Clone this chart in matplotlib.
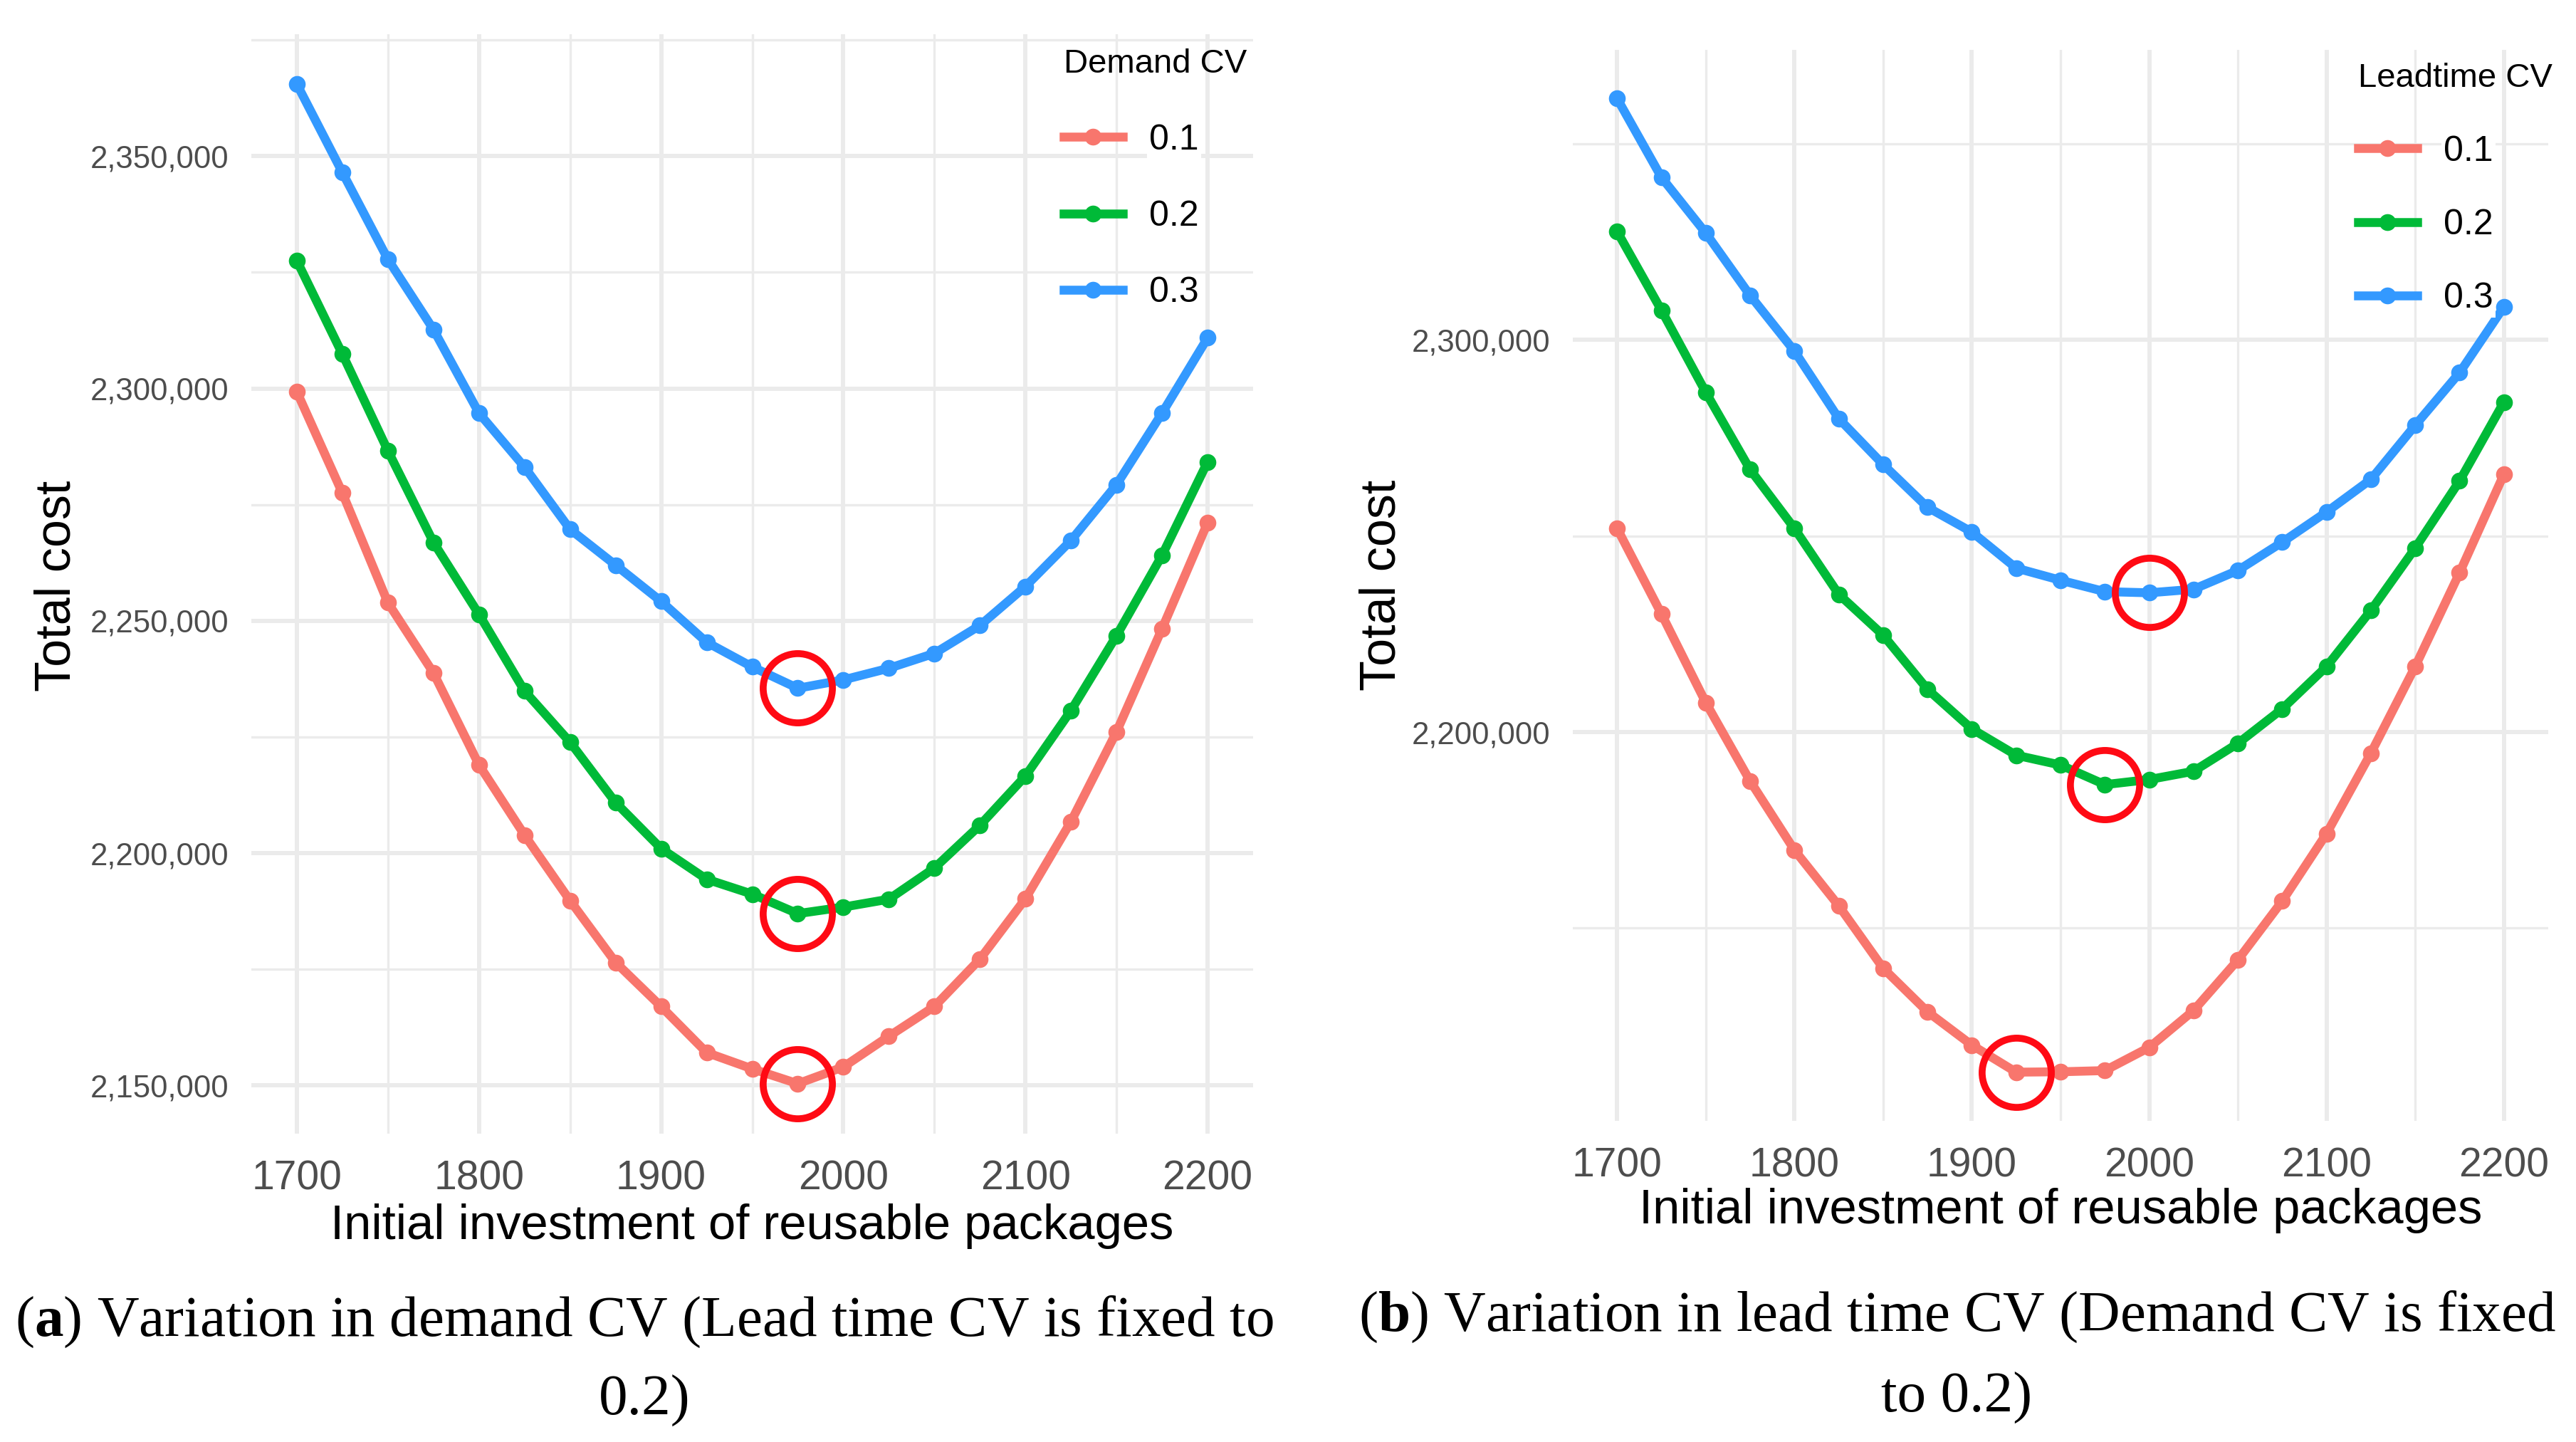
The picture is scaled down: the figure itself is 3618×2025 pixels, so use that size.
import numpy as np
import matplotlib
matplotlib.use("Agg")
import matplotlib.pyplot as plt
from matplotlib.ticker import MultipleLocator, FuncFormatter
from matplotlib.path import Path

plt.rcParams["font.family"] = ["Liberation Sans", "DejaVu Sans"]
plt.rcParams["mathtext.fontset"] = "custom"
plt.rcParams["mathtext.rm"] = "Liberation Serif"
plt.rcParams["mathtext.bf"] = "Liberation Serif:bold"

# initial investment of reusable packages
investment = [1700, 1725, 1750, 1775, 1800, 1825, 1850, 1875, 1900, 1925, 1950,
              1975, 2000, 2025, 2050, 2075, 2100, 2125, 2150, 2175, 2200]
cv_labels = ["0.1", "0.2", "0.3"]

# (a) demand CV varies, lead time CV = 0.2
a_cv01 = [2299300, 2277500, 2253900, 2238800, 2219000, 2203900, 2189800, 2176500, 2167000, 2157100, 2153600,
          2150400, 2154000, 2160600, 2167000, 2177200, 2190200, 2206800, 2226100, 2248300, 2271100]
a_cv02 = [2327500, 2307400, 2286600, 2266900, 2251400, 2234900, 2223900, 2210900, 2201000, 2194400, 2191200,
          2187000, 2188400, 2190100, 2196800, 2206000, 2216600, 2230700, 2246800, 2264100, 2284200]
a_cv03 = [2365500, 2346500, 2327800, 2312700, 2294700, 2283100, 2269700, 2262000, 2254200, 2245400, 2240100,
          2235500, 2237300, 2239800, 2243000, 2249000, 2257400, 2267300, 2279300, 2294700, 2310900]

# (b) lead time CV varies, demand CV = 0.2
b_cv01 = [2251900, 2230100, 2207500, 2187500, 2169900, 2155700, 2139800, 2128700, 2120200, 2113300, 2113400,
          2113700, 2119600, 2129000, 2141900, 2156900, 2174100, 2194600, 2216700, 2240600, 2265700]
b_cv02 = [2327600, 2307500, 2286600, 2266900, 2251900, 2235100, 2224700, 2210900, 2200800, 2194100, 2191600,
          2186600, 2187900, 2190000, 2197100, 2205900, 2216700, 2231000, 2246900, 2264000, 2284100]
b_cv03 = [2361500, 2341400, 2327200, 2311300, 2297100, 2279900, 2268200, 2257300, 2251000, 2241800, 2238700,
          2235800, 2235500, 2236400, 2241200, 2248400, 2256100, 2264400, 2278200, 2291600, 2308400]

colors = ["#F8766D", "#00BA38", "#3399FF"]
GRID = "#EBEBEB"

W, H = 3618, 2025
fig = plt.figure(figsize=(W / 100, H / 100), dpi=100)


def px_axes(x0, y0, x1, y1):
    return fig.add_axes([x0 / W, 1 - y1 / H, (x1 - x0) / W, (y1 - y0) / H])


ring = Path.unit_circle()


def panel(ax, series, y_major, legend_title, leg_pos, leg_spacing):
    for ys, c, lab in zip(series, colors, cv_labels):
        ax.plot(investment, ys, color=c, lw=9, marker="o", ms=17, mew=0,
                label=lab, zorder=3, solid_joinstyle="round")
    # red ring round the minimum of each curve
    for ys in series:
        i = int(np.argmin(ys))
        ax.plot(investment[i], ys[i], marker=ring, ms=70, mfc="none",
                mec="#FF0A14", mew=7, ls="none", zorder=4)

    ax.xaxis.set_major_locator(MultipleLocator(100))
    ax.xaxis.set_minor_locator(MultipleLocator(50))
    ax.yaxis.set_major_locator(MultipleLocator(y_major))
    ax.yaxis.set_minor_locator(MultipleLocator(y_major / 2))
    ax.yaxis.set_major_formatter(FuncFormatter(lambda v, p: f"{v:,.0f}"))
    ax.grid(which="major", color=GRID, lw=4.3, zorder=0)
    ax.grid(which="minor", color=GRID, lw=2.4, zorder=0)
    ax.set_axisbelow(True)
    for s in ax.spines.values():
        s.set_visible(False)
    ax.tick_params(which="both", length=0)
    ax.tick_params(axis="x", labelsize=41, pad=26, labelcolor="#4D4D4D")
    ax.tick_params(axis="y", labelsize=31.5, pad=23, labelcolor="#4D4D4D")

    ax.set_xlabel("Initial investment of reusable packages", fontsize=49.5, va="baseline")
    ax.xaxis.set_label_coords(0.5, -0.096)
    ax.set_ylabel("Total cost", fontsize=50.5, va="center")

    leg = ax.legend(title=legend_title, loc="upper left",
                    bbox_to_anchor=(leg_pos[0] / W, 1 - leg_pos[1] / H),
                    bbox_transform=fig.transFigure, frameon=False,
                    fontsize=36, title_fontsize=34, alignment="left",
                    handlelength=1.65, handletextpad=0.75, labelspacing=leg_spacing,
                    borderpad=0, borderaxespad=0)
    for t in leg.get_texts():
        t.set_bbox(dict(facecolor="white", edgecolor="none", pad=2))
    return ax


ax1 = px_axes(353, 48, 1760, 1592)
panel(ax1, [a_cv01, a_cv02, a_cv03], 50000, "Demand CV", (1494, 68), 1.23)
ax1.yaxis.set_label_coords(-0.194, 0.498)

ax2 = px_axes(2209, 70, 3579, 1574)
panel(ax2, [b_cv01, b_cv02, b_cv03], 100000, "Leadtime CV", (3312, 88), 1.15)
ax2.yaxis.set_label_coords(-0.195, 0.500)

cap = dict(family="Liberation Serif", fontsize=58.5, ha="center", va="baseline")
fig.text(905 / W, 1 - 1876 / H, r"($\mathbf{a}$) Variation in demand CV (Lead time CV is fixed to", **cap)
fig.text(905 / W, 1 - 1987 / H, "0.2)", **cap)
fig.text(2749 / W, 1 - 1869 / H, r"($\mathbf{b}$) Variation in lead time CV (Demand CV is fixed", **cap)
fig.text(2748 / W, 1 - 1983 / H, "to 0.2)", **cap)

fig.savefig("out.png", dpi=100, facecolor="white")
